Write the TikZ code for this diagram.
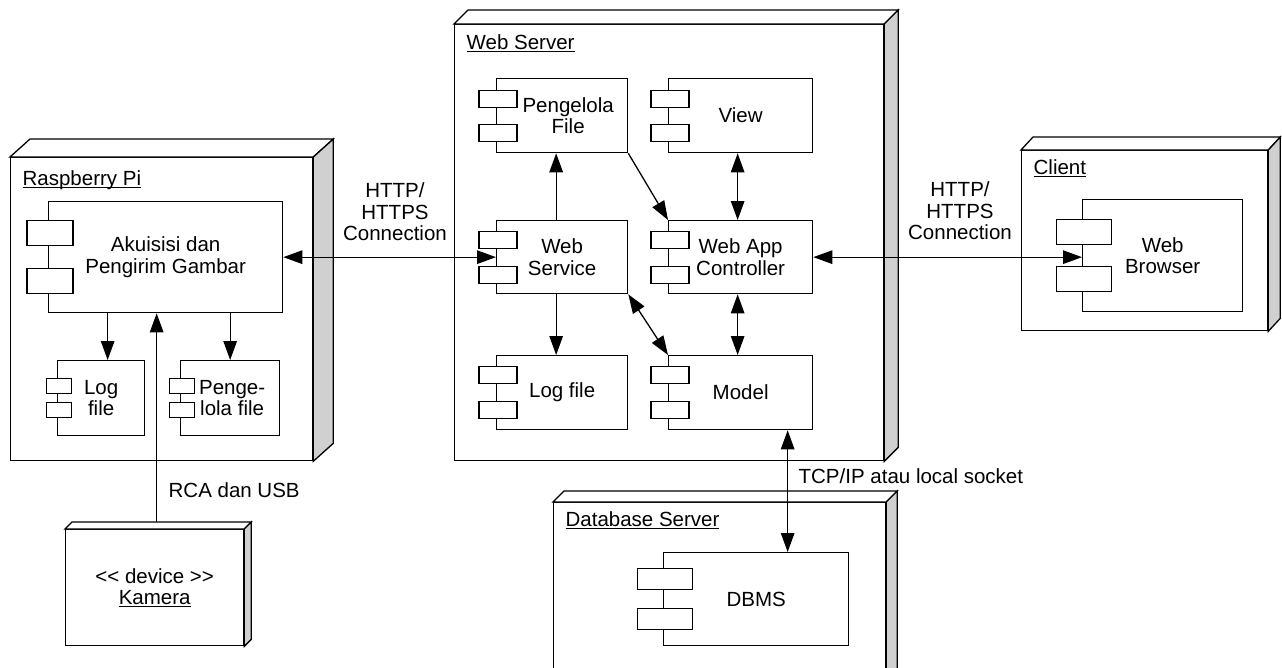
\documentclass[tikz,border=0pt]{standalone}
\usepackage{fontspec}
\setmainfont{Liberation Sans}
\usetikzlibrary{arrows.meta}
\definecolor{sidegray}{RGB}{208,208,208}
\newcommand\myul[1]{\setbox0\hbox{#1}\rlap{\rule[-2.6pt]{\wd0}{1.1pt}}\box0}
\tikzset{
  deploy/.style={draw, fill=white, anchor=north west, inner sep=0pt, align=center},
  comp/.style={draw, fill=white, anchor=north west, inner sep=0pt, align=center},
  arr/.style={-{Triangle[length=19pt,width=13.5pt]}},
  biarr/.style={{Triangle[length=19pt,width=13.5pt]}-{Triangle[length=19pt,width=13.5pt]}},
  lbl/.style={inner sep=0pt, align=center}
}
\newcommand\deploynode[8]{%
  \node[deploy, minimum width=#4, minimum height=#5] (#1) at (#2,#3) {#8};
  \filldraw[fill=white] (#1.north west) -- ++(#6,-#7) -- ([shift={(#6,-#7)}]#1.north east) -- (#1.north east) -- cycle;
  \filldraw[fill=sidegray] (#1.north east) -- ++(#6,-#7) -- ([shift={(#6,-#7)}]#1.south east) -- (#1.south east) -- cycle;
}
\newcommand\comptabs[4]{%
  \foreach \s in {1,-1}{\draw[fill=white] ([shift={(2,\s*#4)}]#1.west) ++(-#2/2,-#3/2) rectangle ++(#2,#3);}
}
\begin{document}
\begin{tikzpicture}[x=1pt,y=-1pt,line width=1.3pt,font=\fontsize{20.5}{21.5}\selectfont]
\clip (0,0) rectangle (1282,667);
\fill[white] (0,0) rectangle (1282,667);

% deployment nodes
\deploynode{rpi}{10}{157}{302}{303}{20}{18}{}
\deploynode{ws}{454}{24}{429}{436}{14}{14}{}
\deploynode{dbs}{553}{502}{332}{200}{11}{11}{}
\deploynode{cli}{1021}{150}{246}{180}{12}{13}{}
\deploynode{kam}{65}{529}{178}{116}{7}{7}{<\kern0pt< device >\kern0pt>\\\myul{Kamera}}

\node[lbl, anchor=base west] (rpilbl) at ([shift={(12,28)}]rpi.north west) {\myul{Raspberry Pi}};
\node[lbl, anchor=base west] (wslbl) at ([shift={(12,25)}]ws.north west) {\myul{Web Server}};
\node[lbl, anchor=base west] (dbslbl) at ([shift={(12,24)}]dbs.north west) {\myul{Database Server}};
\node[lbl, anchor=base west] (clilbl) at ([shift={(12,24)}]cli.north west) {\myul{Client}};

% components
\node[comp, minimum width=234, minimum height=111] (akui) at (48,201) {Akuisisi dan\\Pengirim Gambar};
\node[comp, minimum width=87, minimum height=75] (rlog) at (57,360) {Log\\file};
\node[comp, minimum width=99, minimum height=75] (rpeng) at (180,360) {\hspace*{4pt}Penge-\\\hspace*{4pt}lola file};
\node[comp, minimum width=131, minimum height=74] (wpeng) at (496,78) {\hspace*{12pt}Pengelola\\\hspace*{12pt}File};
\node[comp, minimum width=144, minimum height=74] (view) at (668,78) {View};
\node[comp, minimum width=131, minimum height=73] (wserv) at (496,220) {Web\\Service};
\node[comp, minimum width=144, minimum height=73] (wac) at (668,220) {Web App\\Controller};
\node[comp, minimum width=131, minimum height=74] (wlog) at (496,355) {Log file};
\node[comp, minimum width=144, minimum height=74] (model) at (668,355) {Model};
\node[comp, minimum width=185, minimum height=93] (dbms) at (663,552) {DBMS};
\node[comp, minimum width=160, minimum height=112] (browser) at (1082,199) {Web\\Browser};

\comptabs{akui}{46}{25}{24}
\comptabs{rlog}{25}{15}{12}
\comptabs{rpeng}{25}{15}{12}
\comptabs{wpeng}{38}{17}{17}
\comptabs{view}{38}{17}{17}
\comptabs{wserv}{38}{17}{17.5}
\comptabs{wac}{38}{17}{17.5}
\comptabs{wlog}{38}{17}{17.5}
\comptabs{model}{38}{17}{17.5}
\comptabs{dbms}{55}{21}{20}
\comptabs{browser}{55}{25}{23.5}

% connectors
\draw[arr] ([xshift=6.5]rlog.north |- akui.south) -- ([xshift=6.5]rlog.north);
\draw[arr] (rpeng.north |- akui.south) -- (rpeng.north);
\coordinate (camtop) at ([shift={(2,-7)}]kam.north);
\draw[arr] (camtop) -- (camtop |- akui.south);
\draw[biarr] (akui.east) -- (wserv.west);
\draw[biarr] (wac.east) -- (wac.east -| browser.west);
\draw[arr] ([xshift=-6]wserv.north) -- ([xshift=-6]wpeng.south);
\draw[arr] (wpeng.south east) -- (wac.north west);
\draw[biarr] ([xshift=-3]view.south) -- ([xshift=-3]wac.north);
\draw[arr] ([xshift=-6]wserv.south) -- ([xshift=-6]wlog.north);
\draw[biarr] (wserv.south east) -- (model.north west);
\draw[biarr] ([xshift=-3]wac.south) -- ([xshift=-3]model.north);
\coordinate (mdb) at ([xshift=47]model.south);
\draw[biarr] (mdb) -- (mdb |- dbms.north);

% connector labels
\node[lbl, anchor=north] (http1) at (395,182) {HTTP/\\HTTPS\\Connection};
\node[lbl, anchor=north] (http2) at (960,181) {HTTP/\\HTTPS\\Connection};
\node[lbl, anchor=base west] (rca) at (168,497) {RCA dan USB};
\node[lbl, anchor=base west] (tcp) at (798,483) {TCP/IP atau local socket};
\end{tikzpicture}
\end{document}
